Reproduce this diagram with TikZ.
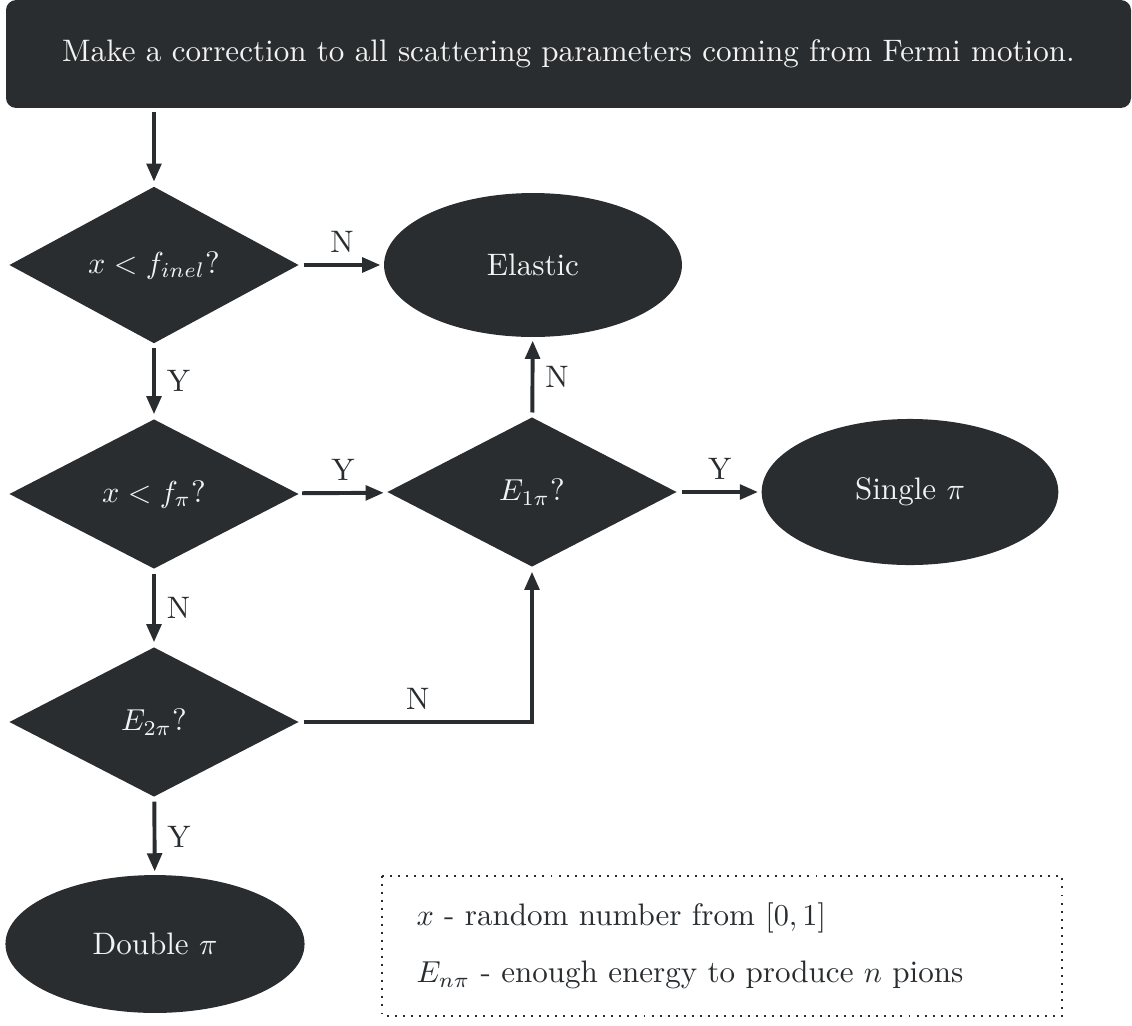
\documentclass[tikz,border=0pt]{standalone}
\usetikzlibrary{shapes.geometric,arrows.meta}
\definecolor{ink}{RGB}{41,45,48}
\definecolor{paper}{RGB}{242,242,242}
\tikzset{
  every node/.style={font=\fontsize{10.25pt}{12.5pt}\selectfont},
  dark/.style={fill=ink, draw=none, text=paper, outer sep=1.2pt, inner sep=0pt},
  headbox/.style={dark, rectangle, rounded corners=3.3pt,
    minimum width=371.25pt, minimum height=35.6pt},
  decision/.style={dark, diamond, minimum width=96.4pt, minimum height=50.2pt},
  outcome/.style={dark, ellipse, minimum width=98.3pt, minimum height=47.5pt},
  arr/.style={draw=ink, line width=1.3pt,
    -{Triangle[length=6pt,width=4.8pt]}},
  lbl/.style={text=ink, inner sep=3.6pt},
  legendbox/.style={draw=ink, dotted, line width=0.65pt}
}
\begin{document}
\begin{tikzpicture}[x=0.33pt, y=-0.33pt]
  \useasboundingbox (0,0) rectangle (1132,1026);

  % header
  \node[headbox] (head) at (568.5,54)
    {Make a correction to all scattering parameters coming from Fermi motion.};

  % decisions
  \node[decision] (inel) at (154,265) {$x < f_{inel}$?};
  \node[decision] (fpi)  at (154,494) {$x < f_{\pi}$?};
  \node[decision] (e2)   at (154,722) {$E_{2\pi}$?};
  \node[decision] (e1)   at (532,492) {$E_{1\pi}$?};

  % outcomes
  \node[outcome] (elastic) at (533,265) {Elastic};
  \node[outcome, minimum width=97.9pt, minimum height=48.2pt] (single) at (910,492) {Single $\pi$};
  \node[outcome, minimum width=98.7pt, minimum height=45.5pt] (double) at (155,944) {Double $\pi$};

  % connectors
  \draw[arr] (head.south -| inel.north) -- (inel.north);
  \draw[arr] (inel) -- node[lbl, above] {N} (elastic);
  \draw[arr] (inel) -- node[lbl, right] {Y} (fpi);
  \draw[arr] (fpi) -- node[lbl, above] {Y} (e1);
  \draw[arr] (e1) -- node[lbl, right] {N} (elastic);
  \draw[arr] (e1) -- node[lbl, above] {Y} (single);
  \draw[arr] (fpi) -- node[lbl, right] {N} (e2);
  \draw[arr] (e2.east) -- node[lbl, above] {N} (e2.east -| e1.south) -- (e1.south);
  \draw[arr] (e2) -- node[lbl, right] {Y} (double);

  % legend
  \draw[legendbox] (382,876) rectangle (1062,1016);
  \node[lbl, anchor=west] (leg1) at (405,918) {$x$ - random number from $[0,1]$};
  \node[lbl, anchor=west] (leg2) at (405,975) {$E_{n\pi}$ - enough energy to produce $n$ pions};
\end{tikzpicture}
\end{document}
